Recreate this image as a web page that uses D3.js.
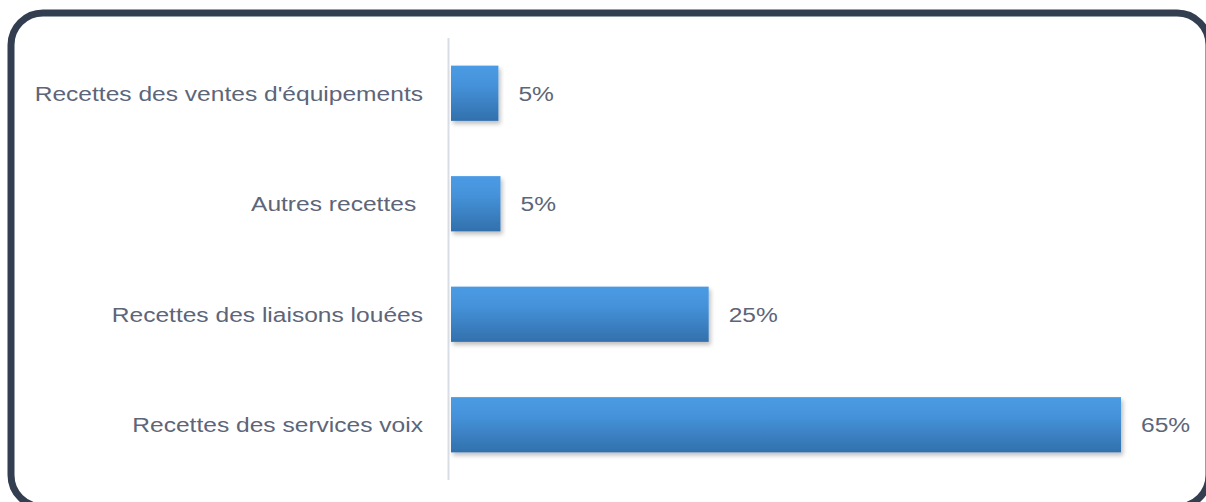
<!DOCTYPE html>
<html>
<head>
    <meta charset="utf-8">
    <title>Recettes</title>
    <script src="https://cdn.jsdelivr.net/npm/d3@7/dist/d3.min.js"></script>
    <style>
        body { margin: 0; background: white; }
        .lbl { font-family: "Liberation Sans", Arial, sans-serif; font-size: 21px; fill: #5d6578; white-space: pre; }
    </style>
</head>
<body>
<div id="chart"></div>
<script>
    // data
    var categories = ["Recettes des ventes d'équipements", "Autres recettes ", "Recettes des liaisons louées", "Recettes des services voix"];
    var values = [4.6, 4.8, 25, 65];
    var valueLabels = ["5%", "5%", "25%", "65%"];

    var width = 1206, height = 502;
    var stretch = 1.17;

    var svg = d3.select("#chart").append("svg")
        .attr("width", width)
        .attr("height", height);

    var defs = svg.append("defs");
    var grad = defs.append("linearGradient")
        .attr("id", "barGrad")
        .attr("x1", 0).attr("y1", 0).attr("x2", 0).attr("y2", 1);
    grad.append("stop").attr("offset", "0%").attr("stop-color", "#4a9be4");
    grad.append("stop").attr("offset", "35%").attr("stop-color", "#4592da");
    grad.append("stop").attr("offset", "100%").attr("stop-color", "#3270ac");

    var shadow = defs.append("filter").attr("id", "shadow")
        .attr("x", "-5%").attr("y", "-10%").attr("width", "115%").attr("height", "130%");
    shadow.append("feDropShadow")
        .attr("dx", 2).attr("dy", 3).attr("stdDeviation", 2)
        .attr("flood-color", "#000").attr("flood-opacity", 0.25);

    // frame, partly cut off at the right and bottom
    svg.append("rect")
        .attr("x", 11).attr("y", 13)
        .attr("width", 1198).attr("height", 494)
        .attr("rx", 32).attr("ry", 32)
        .attr("fill", "white")
        .attr("stroke", "#333e50")
        .attr("stroke-width", 7);

    var x = d3.scaleLinear().domain([0, 65]).range([451, 1121]);
    var y = d3.scaleBand().domain(categories).range([38, 480])
        .paddingInner(0.5).paddingOuter(0.25);

    // axis line
    svg.append("line")
        .attr("x1", 448.5).attr("x2", 448.5)
        .attr("y1", 38).attr("y2", 480)
        .attr("stroke", "#d9dee6")
        .attr("stroke-width", 2);

    svg.selectAll(".bar")
        .data(values)
        .enter().append("rect")
        .attr("class", "bar")
        .attr("x", x(0))
        .attr("y", function(d, i){ return y(categories[i]); })
        .attr("width", function(d){ return x(d) - x(0); })
        .attr("height", y.bandwidth())
        .attr("fill", "url(#barGrad)")
        .attr("filter", "url(#shadow)");

    svg.selectAll(".cat")
        .data(categories)
        .enter().append("text")
        .attr("class", "lbl cat")
        .attr("text-anchor", "end")
        .attr("dy", "0.35em")
        .attr("transform", function(d){
            return "translate(423," + (y(d) + y.bandwidth() / 2) + ") scale(" + stretch + ",1)";
        })
        .text(function(d){ return d; });

    svg.selectAll(".val")
        .data(values)
        .enter().append("text")
        .attr("class", "lbl val")
        .attr("dy", "0.35em")
        .attr("transform", function(d, i){
            return "translate(" + (x(d) + 20) + "," + (y(categories[i]) + y.bandwidth() / 2) + ") scale(" + stretch + ",1)";
        })
        .text(function(d, i){ return valueLabels[i]; });
</script>
</body>
</html>
